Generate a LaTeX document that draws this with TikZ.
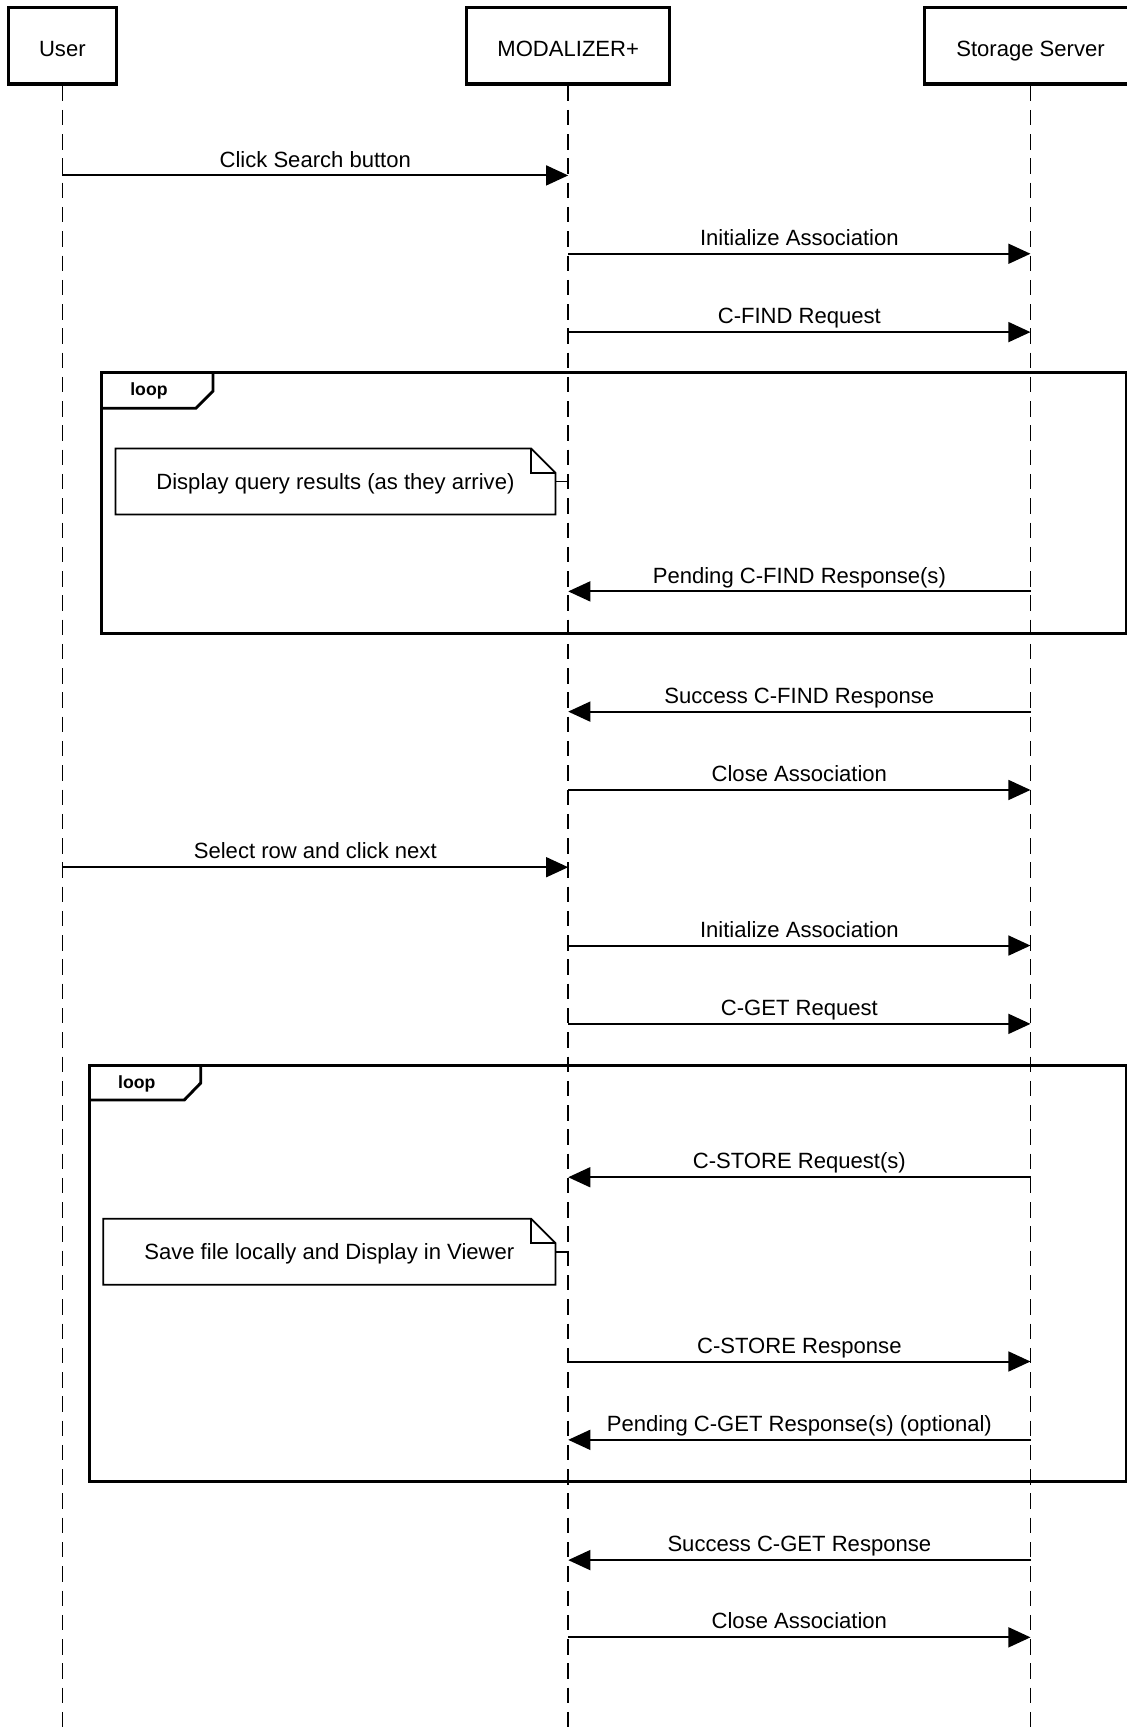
\documentclass[tikz,border=0pt]{standalone}
\usepackage{fontspec}
\setmainfont{Liberation Sans}
\usetikzlibrary{positioning}
\usetikzlibrary{arrows.meta}

\begin{document}
\begin{tikzpicture}[x=0.5pt,y=-0.5pt,>={Triangle[length=10pt,width=9pt]},
	font=\fontsize{10}{12}\selectfont,
	actor/.style={draw,line width=1.6pt,minimum height=34.5pt,inner sep=0pt,
		text height=9.5pt,text depth=0pt},
	lifeline/.style={dash pattern=on 7pt off 4pt,line width=0.75pt},
	msg/.style={->,line width=0.9pt},
	frame/.style={line width=1.3pt},
	tab label/.style={font=\bfseries\fontsize{8}{10}\selectfont},
	note/.style={minimum height=29.5pt,inner sep=0pt,text height=7.2pt,text depth=0pt},
	msg label/.style={above,text height=7.5pt,text depth=0pt}]

	\useasboundingbox (0,0) rectangle (1021,1568);

	\node[actor,minimum width=49pt] (user) at (56.5,41.5) {User};
	\node[actor,minimum width=92pt] (modal) at (515,41.5) {MODALIZER+};
	\node[actor,minimum width=96pt] (storage) at (934,41.5) {Storage Server};

	% lifelines
	\foreach \n in {user,modal,storage}
		\draw[lifeline] (\n.south) -- (\n.south |- 0,1568);

	% loop frames
	\draw[frame] (92,338) rectangle (1021,574);
	\draw[frame] (92,370) -- (177.5,370) -- (193,354.5) -- (193,338);
	\node[tab label] (loopA) at (135,354) {loop};

	\draw[frame] (81,966) rectangle (1021,1343);
	\draw[frame] (81,997) -- (167,997) -- (182,981.5) -- (182,966);
	\node[tab label] (loopB) at (124,982) {loop};

	% notes
	\node[note,minimum width=199pt] (noteA) at (304,436.5) {Display query results (as they arrive)};
	\node[note,minimum width=204.5pt] (noteB) at (298.5,1134.5) {Save file locally and Display in Viewer};
	\foreach \n in {noteA,noteB} {
		\draw[line width=0.8pt] (\n.north west) -- ([xshift=-11pt]\n.north east)
			-- ([yshift=-11pt]\n.north east) -- (\n.south east) -- (\n.south west) -- cycle;
		\draw[line width=0.8pt] ([xshift=-11pt]\n.north east) |- ([yshift=-11pt]\n.north east);
		\draw[line width=0.8pt] (\n.east) -- (modal |- \n.east);
	}

	% messages
	\foreach \y/\a/\b/\txt in {
		159/user/modal/Click Search button,
		230/modal/storage/Initialize Association,
		301/modal/storage/C-FIND Request,
		536/storage/modal/Pending C-FIND Response(s),
		645/storage/modal/Success C-FIND Response,
		716/modal/storage/Close Association,
		786/user/modal/Select row and click next,
		857/modal/storage/Initialize Association,
		928/modal/storage/C-GET Request,
		1067/storage/modal/C-STORE Request(s),
		1234/modal/storage/C-STORE Response,
		1305/storage/modal/Pending C-GET Response(s) (optional),
		1414/storage/modal/Success C-GET Response,
		1484/modal/storage/Close Association}
		\draw[msg] (\a |- 0,\y) -- node[msg label] {\txt} (\b |- 0,\y);
\end{tikzpicture}
\end{document}
